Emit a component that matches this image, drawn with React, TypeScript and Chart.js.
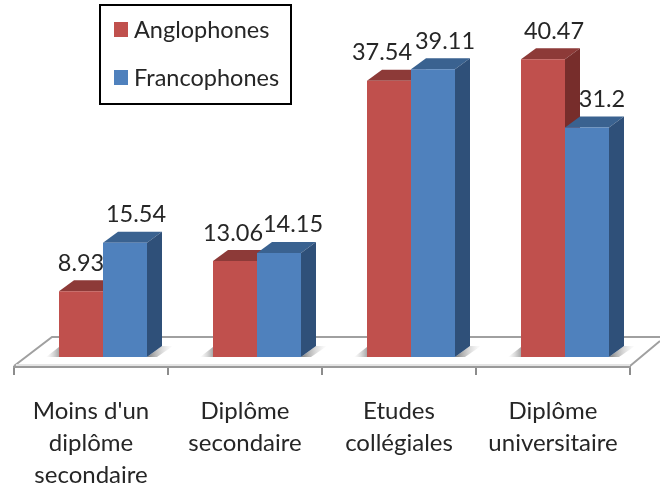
import React, { useEffect, useRef } from "react";
import { Chart, registerables } from "chart.js";

Chart.register(...registerables);

const categories = [
  ["Moins d'un", "diplôme", "secondaire"],
  ["Diplôme", "secondaire"],
  ["Etudes", "collégiales"],
  ["Diplôme", "universitaire"],
];
const anglophones = [8.93, 13.06, 37.54, 40.47];
const francophones = [15.54, 14.15, 39.11, 31.2];
const seriesNames = ["Anglophones", "Francophones"];

const FONT = "Lato";
const TEXT = "#262626";
const GREY = "#a0a0a0";
const frontColors = ["#C0504D", "#4F81BD"];
const topColors = ["#8D3A38", "#3A6290"];
const sideColors = ["#772D2B", "#2F5079"];
const SHIFT_X = 12;
const SHIFT_Y = -10;
const DEPTH_X = 15;
const DEPTH_Y = -11;
const labelNudge = [
  [0, -2, -7, 11],
  [11, 14, 12, 15],
];

const poly = (ctx: CanvasRenderingContext2D, pts: number[][], fill: any) => {
  ctx.beginPath();
  pts.forEach((p, i) => (i ? ctx.lineTo(p[0], p[1]) : ctx.moveTo(p[0], p[1])));
  ctx.closePath();
  ctx.fillStyle = fill;
  ctx.fill();
};

const bar3d = {
  id: "bar3d",
  beforeDatasetDraw() {
    return false;
  },
  beforeDatasetsDraw(chart: any) {
    const { ctx, chartArea } = chart;
    const { left, right, bottom } = chartArea;
    ctx.save();
    // floor
    ctx.strokeStyle = GREY;
    ctx.lineWidth = 2;
    ctx.beginPath();
    ctx.moveTo(left, bottom - 1);
    ctx.lineTo(left + 38, bottom - 30);
    ctx.lineTo(660, bottom - 30);
    ctx.moveTo(right, bottom - 1);
    ctx.lineTo(660, bottom - 26);
    ctx.stroke();
    ctx.strokeStyle = "#e4e4e4";
    ctx.beginPath();
    ctx.moveTo(left + 2, bottom - 2);
    ctx.lineTo(right, bottom - 2);
    ctx.stroke();
    ctx.translate(SHIFT_X, SHIFT_Y);
    // contact shadows
    const metas = [chart.getDatasetMeta(0), chart.getDatasetMeta(1)];
    metas[0].data.forEach((r: any, i: number) => {
      const b = metas[1].data[i];
      const y0 = r.base;
      const gl = ctx.createLinearGradient(r.x - r.width / 2 - 13, 0, r.x - r.width / 2, 0);
      gl.addColorStop(0, "rgba(170,170,170,0)");
      gl.addColorStop(1, "rgba(110,110,110,0.6)");
      poly(ctx, [[r.x - r.width / 2 - 13, y0], [r.x - r.width / 2, y0 - 10], [r.x - r.width / 2, y0]], gl);
      const rx = b.x + b.width / 2;
      const gr = ctx.createLinearGradient(rx, 0, rx + 26, 0);
      gr.addColorStop(0, "rgba(90,90,90,0.8)");
      gr.addColorStop(1, "rgba(190,190,190,0)");
      poly(ctx, [[rx, y0], [rx + 15, y0 - 11], [rx + 26, y0 - 11], [rx + 10, y0]], gr);
    });
    // bars, left series first so the right one overlaps it
    metas.forEach((meta: any, s: number) => {
      meta.data.forEach((r: any) => {
        const x0 = r.x - r.width / 2;
        const x1 = r.x + r.width / 2;
        poly(ctx, [[x0, r.y], [x0 + DEPTH_X, r.y + DEPTH_Y], [x1 + DEPTH_X, r.y + DEPTH_Y], [x1, r.y]], topColors[s]);
        poly(ctx, [[x1, r.y], [x1 + DEPTH_X, r.y + DEPTH_Y], [x1 + DEPTH_X, r.base + DEPTH_Y], [x1, r.base]], sideColors[s]);
      });
      meta.controller.draw();
    });
    ctx.restore();
  },
  afterDatasetsDraw(chart: any) {
    const { ctx } = chart;
    ctx.save();
    ctx.font = `23.5px ${FONT}`;
    ctx.fillStyle = TEXT;
    ctx.textAlign = "center";
    ctx.textBaseline = "middle";
    [0, 1].forEach((s) => {
      chart.getDatasetMeta(s).data.forEach((r: any, i: number) => {
        const v = chart.data.datasets[s].data[i];
        ctx.fillText(String(v), r.x + SHIFT_X + labelNudge[s][i], r.y + SHIFT_Y - 28);
      });
    });
    // legend
    ctx.strokeStyle = "#000";
    ctx.lineWidth = 2;
    ctx.strokeRect(100, 5, 191, 99);
    ctx.textAlign = "left";
    ctx.font = `23.5px ${FONT}`;
    chart.data.datasets.forEach((d: any, s: number) => {
      const cy = 29.5 + s * 48;
      ctx.fillStyle = frontColors[s];
      ctx.fillRect(114, cy - 7.5, 14, 15);
      ctx.fillStyle = TEXT;
      ctx.fillText(d.label, 134, cy + 1);
    });
    ctx.restore();
  },
};

export default function App() {
  const ref = useRef<HTMLCanvasElement>(null);
  useEffect(() => {
    const chart = new Chart(ref.current!, {
      type: "bar",
      data: {
        labels: categories as any,
        datasets: [
          { label: seriesNames[0], data: anglophones, backgroundColor: frontColors[0] },
          { label: seriesNames[1], data: francophones, backgroundColor: frontColors[1] },
        ],
      },
      options: {
        responsive: false,
        animation: false,
        layout: { padding: { left: 14, right: 30, top: 36, bottom: 0 } },
        plugins: { legend: { display: false }, tooltip: { enabled: false } },
        scales: {
          x: {
            afterFit: (s: any) => {
              s.height = 119;
            },
            grid: { drawOnChartArea: false, drawTicks: true, tickLength: 8, color: "#8c8c8c", lineWidth: 2 },
            border: { display: true, color: "#9a9a9a", width: 2 },
            ticks: {
              autoSkip: false,
              maxRotation: 0,
              minRotation: 0,
              padding: 20,
              color: TEXT,
              font: { family: FONT, size: 24, lineHeight: 1.33 },
            },
          } as any,
          y: { display: false, min: 0, max: 45 },
        },
        datasets: { bar: { categoryPercentage: 0.5714, barPercentage: 1 } },
      } as any,
      plugins: [bar3d as any],
    });
    return () => chart.destroy();
  }, []);
  return (
    <canvas
      ref={ref}
      width={660}
      height={486}
      style={{ position: "fixed", left: 0, top: 0, display: "block" }}
    />
  );
}
